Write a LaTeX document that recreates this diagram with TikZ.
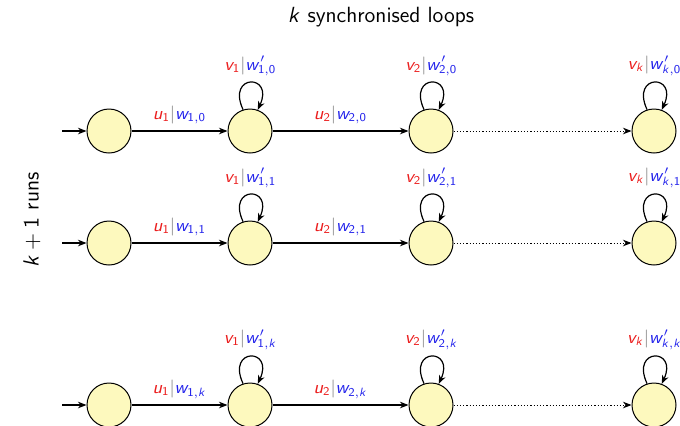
\documentclass[tikz,border=0pt]{standalone}
\usetikzlibrary{arrows.meta}
\DeclareMathAlphabet{\mathsfit}{OT1}{cmss}{m}{sl}
\DeclareMathAlphabet{\mathsfup}{OT1}{cmss}{m}{n}
\definecolor{stfill}{RGB}{253,249,190}
\definecolor{lred}{RGB}{235,30,30}
\definecolor{lblue}{RGB}{35,35,235}
\newcommand{\rr}[1]{\textcolor{lred}{$#1$}}
\newcommand{\bb}[1]{\textcolor{lblue}{$#1$}}
\newcommand{\lab}[2]{\rr{#1}\textcolor{gray}{$|$}\bb{#2}}
\begin{document}
\begin{tikzpicture}[x=0.5pt,y=-0.5pt,
  st/.style={circle,draw,fill=stfill,minimum size=22pt,inner sep=0pt,line width=0.5pt},
  tr/.style={-{Stealth[length=4.3pt,width=3.3pt]},line width=0.6pt},
  dtr/.style={tr,densely dotted,line width=0.45pt},
  lbl/.style={font=\sffamily\small,inner sep=1pt},
  big/.style={font=\sffamily\fontsize{11}{13}\selectfont},
  every node/.style={font=\sffamily}]
\useasboundingbox (0,0) rectangle (680,425);
\node[big] (title) at (381,17) {$\mathsfit{k}$ synchronised loops};
\node[big,rotate=90] (runs) at (32,220) {$\mathsfit{k}+\mathsfup{1}$ runs};
\foreach \r/\y/\i in {0/131/\mathsfup{0},1/243/\mathsfup{1},2/405/\mathsfit{k}}{
  \node[st] (a\r) at (109,\y) {};
  \node[st] (b\r) at (250,\y) {};
  \node[st] (c\r) at (431,\y) {};
  \node[st] (d\r) at (654,\y) {};
  \coordinate (s\r) at (62,\y);
  \draw[tr] (s\r) -- (a\r);
  \draw[tr] (a\r) -- node[lbl,above=2pt]{\lab{\mathsfit{u}_{\mathsfup{1}}}{\mathsfit{w}_{\mathsfup{1},\i}}} (b\r);
  \draw[tr] (b\r) -- node[lbl,above=2pt]{\lab{\mathsfit{u}_{\mathsfup{2}}}{\mathsfit{w}_{\mathsfup{2},\i}}} (c\r);
  \draw[dtr] (c\r) -- (d\r);
  \draw[tr] (b\r.108) .. controls +(115:20pt) and +(65:20pt) .. node[lbl,above=2pt]{\lab{\mathsfit{v}_{\mathsfup{1}}}{\mathsfit{w}'_{\mathsfup{1},\i}}} (b\r.70);
  \draw[tr] (c\r.108) .. controls +(115:20pt) and +(65:20pt) .. node[lbl,above=2pt]{\lab{\mathsfit{v}_{\mathsfup{2}}}{\mathsfit{w}'_{\mathsfup{2},\i}}} (c\r.70);
  \draw[tr] (d\r.108) .. controls +(115:20pt) and +(65:20pt) .. node[lbl,above=2pt]{\lab{\mathsfit{v}_{\mathsfit{k}}}{\mathsfit{w}'_{\mathsfit{k},\i}}} (d\r.70);
}
\end{tikzpicture}
\end{document}
